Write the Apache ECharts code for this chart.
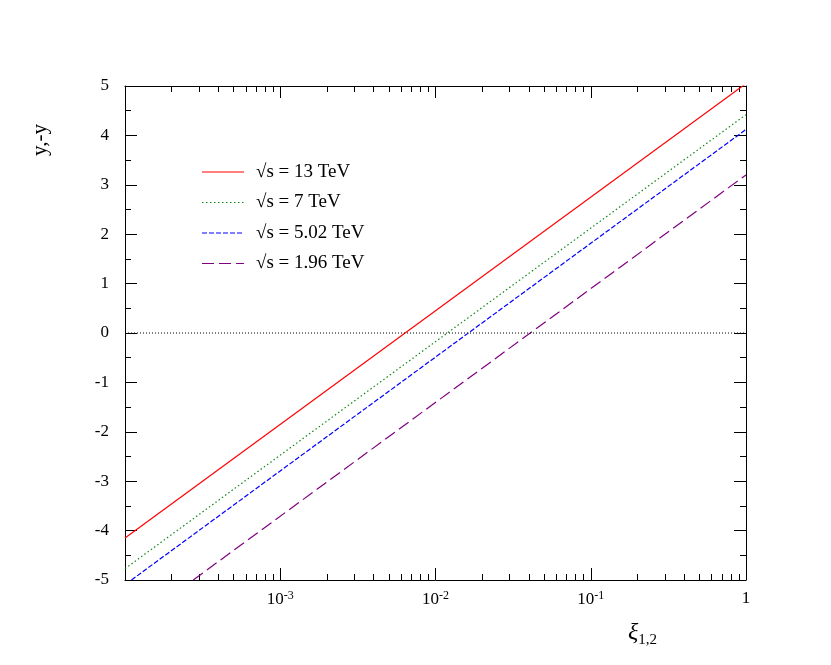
<!DOCTYPE html>
<html><head><meta charset="utf-8">
<script src="https://cdn.jsdelivr.net/npm/echarts@6/dist/echarts.min.js"></script>
<style>html,body{margin:0;background:#fff}#c{width:831px;height:665px}</style>
</head><body><div id="c"></div>
<script>
// series names and end points (straight lines on a log x axis)
var names = ['\u221As = 13 TeV', '\u221As = 7 TeV', '\u221As = 5.02 TeV', '\u221As = 1.96 TeV'];
var colors = ['#ff0000', '#118811', '#0000ff', '#800080'];
var dashes = ['solid', [1.5, 2.5], [5, 2], [12, 5]];
var red = [[1e-4, -4.15], [1, 5.05]];
var green = [[1e-4, -4.77], [1, 4.42]];
var blue = [[1.1e-4, -5], [1, 4.12]];
var purple = [[2.75e-4, -5], [1, 3.2]];
var zero = [[1e-4, 0], [1, 0]];
var font = 'Liberation Serif';

var chart = echarts.init(document.getElementById('c'));
var lines = [red, green, blue, purple];
var series = lines.map(function (d, i) {
  return {name: names[i], type: 'line', data: d, symbol: 'none', silent: true,
    lineStyle: {color: colors[i], width: 1.2, type: dashes[i]}, itemStyle: {color: colors[i]}};
});
series.push({type: 'line', data: zero, symbol: 'none', silent: true,
  lineStyle: {color: '#000', width: 1, type: [1, 2]}});

// legend drawn as graphic elements
var graphic = [];
names.forEach(function (n, i) {
  var y = 172 + i * 30.5;
  graphic.push({type: 'line', shape: {x1: 202, y1: y, x2: 244, y2: y},
    style: {stroke: colors[i], lineWidth: 1.2, lineDash: dashes[i] === 'solid' ? null : dashes[i]}});
  graphic.push({type: 'text', x: 256, y: y, style: {text: n, font: '19px ' + font,
    fill: '#000', verticalAlign: 'middle'}});
});
graphic.push({type: 'text', x: 40, y: 140, rotation: Math.PI / 2,
  style: {text: 'y,-y', font: '21px ' + font, fill: '#000', align: 'center', verticalAlign: 'middle'}});
graphic.push({type: 'text', x: 628, y: 633, style: {text: '{a|\u03BE}{s|1,2}', verticalAlign: 'middle',
  rich: {a: {fontSize: 24, fontFamily: font, fontStyle: 'italic'},
    s: {fontSize: 15, fontFamily: font, padding: [14, 0, 0, 0]}}}});

var axLine = {show: true, onZero: false, lineStyle: {color: '#000', width: 1}};
var tick = {inside: true, length: 12, lineStyle: {color: '#000'}};
chart.setOption({
  animation: false,
  textStyle: {fontFamily: font},
  grid: {left: 125, right: 85, top: 86, bottom: 85},
  graphic: graphic,
  xAxis: [{type: 'log', min: 1e-4, max: 1, logBase: 10,
    axisLine: axLine, axisTick: tick,
    minorTick: {show: true, splitNumber: 9, length: 6, lineStyle: {color: '#000'}},
    splitLine: {show: false},
    axisLabel: {margin: 10, color: '#000',
      formatter: function (v) {
        if (Math.abs(v - 1) < 1e-9) return '{n|1}';
        if (v < 5e-4) return '';
        return '{n|10}{s|' + Math.round(Math.log10(v)) + '}';
      },
      rich: {n: {fontSize: 17, fontFamily: font, color: '#000'},
        s: {fontSize: 12, fontFamily: font, color: '#000', verticalAlign: 'top', padding: [0, 0, 8, 0]}}}
  }, {type: 'log', min: 1e-4, max: 1, position: 'top', axisLine: axLine, axisTick: tick,
    minorTick: {show: true, splitNumber: 9, length: 6, lineStyle: {color: '#000'}},
    axisLabel: {show: false}, splitLine: {show: false}}],
  yAxis: [{type: 'value', min: -5, max: 5, interval: 1,
    axisLine: axLine, axisTick: tick,
    minorTick: {show: true, splitNumber: 2, length: 6, lineStyle: {color: '#000'}},
    splitLine: {show: false},
    axisLabel: {margin: 16, fontSize: 17, color: '#000', fontFamily: font}
  }, {type: 'value', min: -5, max: 5, interval: 1, position: 'right', axisLine: axLine, axisTick: tick,
    minorTick: {show: true, splitNumber: 2, length: 6, lineStyle: {color: '#000'}},
    axisLabel: {show: false}, splitLine: {show: false}}],
  series: series
});
</script></body></html>
